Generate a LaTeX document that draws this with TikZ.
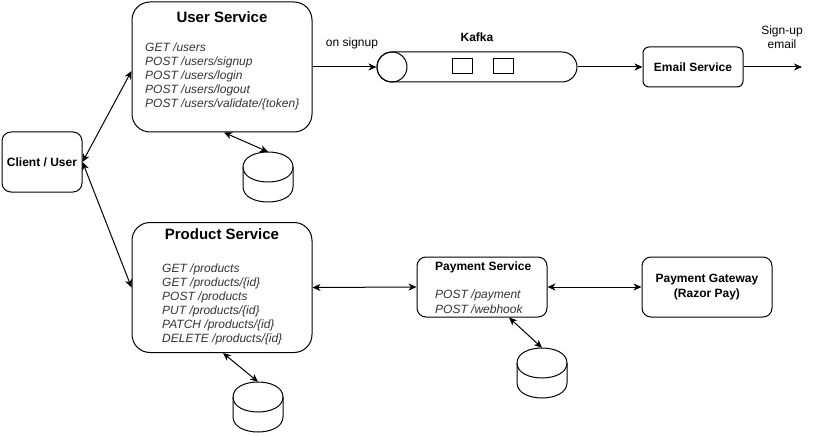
\documentclass[tikz,border=0pt]{standalone}
\usepackage{fontspec}
\setmainfont{Liberation Sans}
\usetikzlibrary{arrows.meta,calc}
\definecolor{itemgray}{HTML}{333333}
\tikzset{
  box/.style={draw, line width=1pt, rounded corners=#1, inner sep=0pt},
  box/.default=9pt,
  lbl/.style={font=\fontsize{12}{14}\selectfont, inner sep=0pt},
  blbl/.style={font=\fontsize{12}{14}\selectfont\bfseries, inner sep=0pt},
  title/.style={font=\fontsize{15}{18}\selectfont\bfseries, inner sep=0pt},
  items/.style={font=\fontsize{12}{14}\selectfont\itshape, text=itemgray, align=left, inner sep=0pt, anchor=west},
  conn/.style={line width=1pt, -{Stealth[length=8pt,width=7pt,inset=2.5pt]}},
  biconn/.style={line width=1pt, {Stealth[length=8pt,width=7pt,inset=2.5pt]}-{Stealth[length=8pt,width=7pt,inset=2.5pt]}},
  dbnode/.style={minimum width=50pt, minimum height=50pt, inner sep=0pt},
}
\newcommand\dbcyl[3]{%
  \node[dbnode] (#1) at (#2+25,#3+25) {};
  \draw[line width=1pt] (#2,#3+15) .. controls (#2,#3-5) and (#2+50,#3-5) .. (#2+50,#3+15) -- (#2+50,#3+35) .. controls (#2+50,#3+55) and (#2,#3+55) .. (#2,#3+35) -- cycle;
  \draw[line width=1pt] (#2,#3+15) .. controls (#2,#3+35) and (#2+50,#3+35) .. (#2+50,#3+15);
}
\begin{document}
\begin{tikzpicture}[x=1pt,y=-1pt]
\useasboundingbox (0,0) rectangle (815,436);
% Client
\node[box=9pt, minimum width=80pt, minimum height=60pt, blbl] (client) at (42,162) {Client / User};
% User Service
\node[box=18pt, minimum width=180pt, minimum height=130pt] (us) at (222,67) {};
\node[title] (ust) at (222,17) {User Service};
\node[items] (usi) at (145,76) {GET /users\\POST /users/signup\\POST /users/login\\POST /users/logout\\POST /users/validate/\{token\}};
% Product Service
\node[box=18pt, minimum width=180pt, minimum height=130pt] (ps) at (222,287.5) {};
\node[title] (pst) at (222,234) {Product Service};
\node[items] (psi) at (162,304) {GET /products\\GET /products/\{id\}\\POST /products\\PUT /products/\{id\}\\PATCH /products/\{id\}\\DELETE /products/\{id\}};
% Kafka
\node[draw, line width=1pt, rounded corners=15pt, minimum width=200pt, minimum height=30pt, inner sep=0pt] (kafka) at (477,67) {};
\node[draw, line width=1pt, circle, minimum size=30pt, inner sep=0pt] (kcirc) at (392,67) {};
\node[draw, line width=1pt, minimum width=20pt, minimum height=15pt, inner sep=0pt] (kq1) at (462,66.5) {};
\node[draw, line width=1pt, minimum width=20pt, minimum height=15pt, inner sep=0pt] (kq2) at (503,66.5) {};
\node[blbl] (kafkal) at (477,37) {Kafka};
% Email
\node[box=6pt, minimum width=100pt, minimum height=40pt, blbl] (email) at (693,67) {Email Service};
\coordinate (emailout) at (802,67);
\node[lbl, align=center] (signupl) at (782,37.5) {Sign-up\\email};
% Payment
\node[box=9pt, minimum width=130pt, minimum height=60pt] (pay) at (482,287) {};
\node[inner sep=0pt, anchor=west, align=left, font=\fontsize{12}{14.4}\selectfont] (payt) at (435,287.5) {\textbf{Payment Service}\\[0pt]\mbox{}\\\textcolor{itemgray}{\itshape POST /payment}\\\textcolor{itemgray}{\itshape POST /webhook}};
% Gateway
\node[box=9pt, minimum width=130pt, minimum height=60pt, blbl, align=center, font=\fontsize{12}{15}\selectfont\bfseries] (gw) at (707,287) {Payment Gateway\\(Razor Pay)};
% Databases
\dbcyl{udb}{243}{152}
\dbcyl{pdb}{233}{382}
\dbcyl{paydb}{517}{348}
% Connectors
\draw[biconn] (client.east) -- ([yshift=-4pt]us.west);
\draw[biconn] (client.east) -- (ps.west);
\draw[conn] (us.east) -- (kcirc.west);
\node[lbl] (onsignup) at (352,43) {on signup};
\draw[conn] (kafka.east) -- (email.west);
\draw[conn] (email.east) -- (emailout);
\draw[biconn] ([xshift=2pt]us.south) -- (udb.north);
\draw[biconn] ([xshift=1pt]ps.south) -- (pdb.north);
\draw[biconn] ([xshift=27pt]pay.south) -- (paydb.north);
\draw[biconn] (ps.east) -- (pay.west);
\draw[biconn] (pay.east) -- (gw.west);
\end{tikzpicture}
\end{document}
